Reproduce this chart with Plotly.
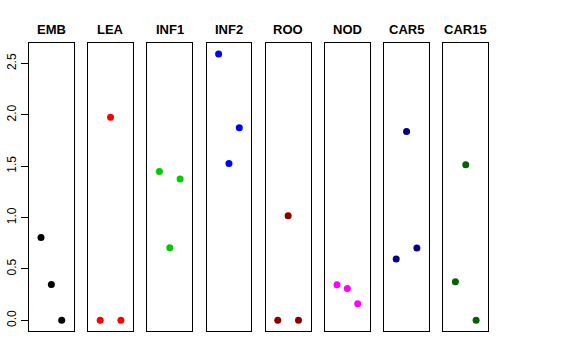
import plotly.graph_objects as go

panels = ["EMB", "LEA", "INF1", "INF2", "ROO", "NOD", "CAR5", "CAR15"]
colors = ["#000000", "#FF0000", "#00CD00", "#0000FF", "#8B0000", "#FF00FF", "#000080", "#006400"]
x_pos = [1, 2, 3]
emb = [0.807, 0.350, 0.0]
lea = [0.0, 1.978, 0.0]
inf1 = [1.449, 0.706, 1.377]
inf2 = [2.593, 1.527, 1.874]
roo = [0.0, 1.018, 0.0]
nod = [0.347, 0.311, 0.162]
car5 = [0.597, 1.839, 0.704]
car15 = [0.376, 1.514, 0.0]
series = [emb, lea, inf1, inf2, roo, nod, car5, car15]
y_ticks = [0.0, 0.5, 1.0, 1.5, 2.0, 2.5]

W, H = 576, 360
left0, pw, step = 29.0, 44.7, 59.2
top_px, bot_px = 43.3, 331.0
title_px = 29
ymax = max(max(s) for s in series)
ypad = ymax * 0.04

fig = go.Figure()
layout = dict(width=W, height=H, margin=dict(l=0, r=0, t=0, b=0, autoexpand=False),
              paper_bgcolor="white", plot_bgcolor="white", showlegend=False,
              font=dict(family="Liberation Sans, Arial, sans-serif", color="black"))
annotations = []
for i, (name, col, vals) in enumerate(zip(panels, colors, series)):
    k = "" if i == 0 else str(i + 1)
    x0 = left0 + i * step
    dom = [x0 / W, (x0 + pw) / W]
    fig.add_trace(go.Scatter(x=x_pos, y=vals, mode="markers",
                             marker=dict(color=col, size=7, line=dict(width=0)),
                             xaxis="x" + k, yaxis="y" + k))
    layout["xaxis" + k] = dict(domain=dom, range=[-0.16, 4.16], showticklabels=False,
                               ticks="", showgrid=False, zeroline=False, automargin=False,
                               showline=True, mirror=True, linecolor="black", linewidth=1,
                               anchor="y" + k)
    ya = dict(domain=[1 - bot_px / H, 1 - top_px / H], range=[-ypad, ymax + ypad],
              showgrid=False, zeroline=False, showline=True, mirror=True, automargin=False,
              linecolor="black", linewidth=1, anchor="x" + k)
    if i == 0:
        ya.update(tickvals=y_ticks, ticktext=[f"{v:.1f}" for v in y_ticks],
                  ticks="outside", ticklen=7, tickcolor="black", tickangle=-90,
                  tickfont=dict(size=12, color="black"))
    else:
        ya.update(showticklabels=False, ticks="")
    layout["yaxis" + k] = ya
    annotations.append(dict(text="<b>" + name + "</b>", x=(x0 + pw / 2) / W, y=1 - title_px / H,
                            xref="paper", yref="paper", showarrow=False,
                            xanchor="center", yanchor="middle",
                            font=dict(size=13, color="black")))
layout["annotations"] = annotations
fig.update_layout(**layout)
fig.write_html("out.html", config={"displayModeBar": False},
               post_script="document.body.style.margin='0';document.body.style.overflow='hidden';")
